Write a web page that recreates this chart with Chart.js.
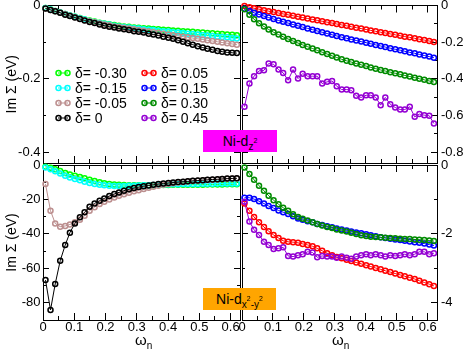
<!DOCTYPE html>
<html><head><meta charset="utf-8">
<script src="https://cdn.jsdelivr.net/npm/chart.js@4.4.0/dist/chart.umd.min.js"></script>
<style>
html,body{margin:0;padding:0;background:#fff;}
#wrap{position:relative;width:463px;height:352px;overflow:hidden;font-family:"Liberation Sans",Arial,Helvetica,sans-serif;color:#000;}
canvas{position:absolute;left:0;top:0;}
.ov{position:absolute;white-space:nowrap;}
.leg{position:absolute;height:16px;line-height:16px;font-size:14px;white-space:nowrap;}
.leg svg{position:absolute;top:4px;}
.tag{position:absolute;font-size:14px;text-align:center;}
.sb{font-size:10px;position:relative;top:4px;}
.sp{font-size:7px;position:relative;top:-7px;}
</style></head><body>
<div id="wrap">
<canvas id="cTL" width="463" height="352"></canvas>
<canvas id="cTR" width="463" height="352"></canvas>
<canvas id="cBL" width="463" height="352"></canvas>
<canvas id="cBR" width="463" height="352"></canvas>
<div id="legend"></div>
<div class="tag" style="left:203px;top:130px;width:74px;height:22px;line-height:22px;background:#ff00ff;">Ni-d<span class="sb">z<span class="sp">2</span></span></div>
<div class="tag" style="left:203px;top:288px;width:73px;height:22px;line-height:22px;background:#ffa500;">Ni-d<span class="sb">x<span class="sp">2</span>-y<span class="sp">2</span></span></div>
<div class="ov" style="left:135px;top:331px;font-size:15px;">ω<span style="font-size:10px;position:relative;top:4px;">n</span></div>
<div class="ov" style="left:332px;top:331px;font-size:15px;">ω<span style="font-size:10px;position:relative;top:4px;">n</span></div>
</div>
<script>
// Matsubara frequencies (x values)
const omega = [0.008,0.024,0.039,0.055,0.071,0.086,0.102,0.118,0.133,0.149,0.165,0.181,0.196,0.212,0.228,0.243,0.259,0.275,0.291,0.306,0.322,0.338,0.353,0.369,0.385,0.401,0.416,0.432,0.448,0.463,0.479,0.495,0.511,0.526,0.542,0.558,0.573,0.589,0.605,0.620];

// series labels
const deltaNeg = ['-0.30','-0.15','-0.05','0'];
const deltaPos = ['0.05','0.15','0.30','0.45'];
const colorsNeg = ['#00ff00','#00ffff','#bc8f8f','#000000'];
const colorsPos = ['#ff0000','#0000ff','#008b00','#9400d3'];

// Ni-dz2, delta <= 0 (eV)
const z2_m030 = [-0.007,-0.011,-0.015,-0.019,-0.023,-0.027,-0.031,-0.034,-0.038,-0.041,-0.044,-0.047,-0.049,-0.051,-0.053,-0.055,-0.057,-0.058,-0.060,-0.061,-0.062,-0.063,-0.064,-0.065,-0.066,-0.067,-0.068,-0.069,-0.070,-0.071,-0.072,-0.073,-0.074,-0.075,-0.076,-0.077,-0.078,-0.079,-0.080,-0.081];
const z2_m015 = [-0.007,-0.011,-0.015,-0.019,-0.023,-0.027,-0.031,-0.035,-0.038,-0.042,-0.045,-0.048,-0.050,-0.052,-0.055,-0.057,-0.059,-0.060,-0.062,-0.063,-0.065,-0.066,-0.067,-0.069,-0.070,-0.071,-0.073,-0.074,-0.075,-0.077,-0.078,-0.079,-0.081,-0.082,-0.083,-0.085,-0.086,-0.087,-0.089,-0.090];
const z2_m005 = [-0.008,-0.012,-0.016,-0.020,-0.024,-0.028,-0.032,-0.036,-0.040,-0.043,-0.046,-0.049,-0.052,-0.054,-0.057,-0.059,-0.061,-0.063,-0.065,-0.067,-0.069,-0.071,-0.073,-0.075,-0.077,-0.079,-0.081,-0.083,-0.085,-0.087,-0.089,-0.091,-0.093,-0.095,-0.097,-0.099,-0.101,-0.103,-0.105,-0.107];
const z2_0 = [-0.008,-0.012,-0.016,-0.020,-0.025,-0.029,-0.033,-0.037,-0.041,-0.045,-0.048,-0.052,-0.055,-0.058,-0.060,-0.063,-0.065,-0.067,-0.070,-0.072,-0.074,-0.077,-0.079,-0.082,-0.085,-0.088,-0.091,-0.095,-0.099,-0.103,-0.107,-0.111,-0.115,-0.118,-0.121,-0.124,-0.126,-0.128,-0.129,-0.130];
// Ni-dz2, delta > 0
const z2_p005 = [-0.003,-0.009,-0.015,-0.020,-0.026,-0.031,-0.036,-0.041,-0.046,-0.051,-0.056,-0.061,-0.066,-0.071,-0.076,-0.081,-0.086,-0.091,-0.096,-0.101,-0.106,-0.111,-0.116,-0.121,-0.126,-0.131,-0.136,-0.141,-0.146,-0.150,-0.155,-0.160,-0.165,-0.170,-0.174,-0.179,-0.184,-0.189,-0.194,-0.199];
const z2_p015 = [-0.018,-0.030,-0.040,-0.049,-0.058,-0.066,-0.074,-0.082,-0.089,-0.096,-0.104,-0.111,-0.118,-0.125,-0.132,-0.139,-0.146,-0.153,-0.160,-0.166,-0.173,-0.179,-0.185,-0.191,-0.197,-0.203,-0.209,-0.215,-0.221,-0.227,-0.233,-0.239,-0.244,-0.250,-0.256,-0.261,-0.267,-0.273,-0.279,-0.285];
const z2_p030 = [-0.020,-0.050,-0.075,-0.097,-0.115,-0.131,-0.146,-0.159,-0.171,-0.183,-0.194,-0.205,-0.215,-0.225,-0.235,-0.245,-0.255,-0.265,-0.275,-0.284,-0.294,-0.302,-0.309,-0.317,-0.324,-0.331,-0.338,-0.345,-0.352,-0.358,-0.364,-0.370,-0.376,-0.382,-0.388,-0.394,-0.400,-0.406,-0.412,-0.418];
const z2_p045 = [-0.553,-0.426,-0.386,-0.357,-0.354,-0.317,-0.321,-0.350,-0.368,-0.408,-0.350,-0.399,-0.372,-0.386,-0.386,-0.386,-0.426,-0.417,-0.412,-0.441,-0.459,-0.459,-0.463,-0.493,-0.502,-0.490,-0.490,-0.502,-0.544,-0.502,-0.539,-0.557,-0.568,-0.568,-0.553,-0.608,-0.593,-0.599,-0.602,-0.644];

// Ni-dx2-y2, delta <= 0
const x2_m030 = [-1.0,-1.6,-2.5,-3.5,-4.6,-5.5,-6.3,-7.0,-7.7,-8.5,-9.3,-10.0,-10.6,-11.0,-11.3,-11.5,-11.6,-11.7,-11.7,-11.7,-11.7,-11.7,-11.7,-11.6,-11.6,-11.6,-11.5,-11.5,-11.5,-11.4,-11.4,-11.4,-11.4,-11.3,-11.3,-11.3,-11.3,-11.2,-11.2,-11.2];
const x2_m015 = [-1.5,-2.5,-3.6,-5.0,-6.2,-7.2,-8.1,-8.9,-9.7,-10.4,-11.0,-11.5,-11.8,-12.0,-12.2,-12.2,-12.2,-12.1,-12.0,-11.9,-11.8,-11.7,-11.6,-11.5,-11.4,-11.3,-11.2,-11.2,-11.1,-11.1,-11.0,-11.0,-10.9,-10.9,-10.9,-10.8,-10.8,-10.8,-10.7,-10.7];
const x2_m005 = [-11.0,-26.5,-33.9,-35.8,-35.4,-34.5,-33.3,-31.8,-29.5,-26.5,-24.5,-22.6,-21.3,-20.0,-18.9,-17.9,-17.0,-16.1,-15.3,-14.6,-13.9,-13.2,-12.6,-12.0,-11.5,-11.0,-10.6,-10.2,-9.9,-9.6,-9.3,-9.1,-8.9,-8.7,-8.5,-8.4,-8.2,-8.0,-7.9,-7.8];
const x2_0 = [-66.8,-84.2,-69.1,-55.6,-46.5,-39.3,-33.9,-30.4,-27.5,-24.2,-22.3,-20.7,-19.4,-18.0,-16.8,-15.9,-14.9,-14.1,-13.4,-12.8,-12.3,-11.9,-11.5,-11.1,-10.8,-10.5,-10.2,-9.9,-9.7,-9.5,-9.2,-9.0,-8.8,-8.6,-8.4,-8.3,-8.1,-7.9,-7.8,-7.7];
// Ni-dx2-y2, delta > 0
const x2_p005 = [-1.12,-1.33,-1.51,-1.66,-1.80,-1.92,-2.03,-2.12,-2.20,-2.23,-2.24,-2.26,-2.29,-2.32,-2.36,-2.42,-2.49,-2.56,-2.62,-2.67,-2.71,-2.75,-2.79,-2.83,-2.87,-2.91,-2.95,-2.99,-3.03,-3.07,-3.11,-3.15,-3.19,-3.23,-3.27,-3.31,-3.36,-3.41,-3.46,-3.51];
const x2_p015 = [-0.95,-0.95,-0.99,-1.05,-1.12,-1.19,-1.25,-1.32,-1.37,-1.42,-1.49,-1.55,-1.59,-1.63,-1.66,-1.71,-1.74,-1.78,-1.81,-1.84,-1.87,-1.90,-1.93,-1.96,-1.98,-2.01,-2.04,-2.07,-2.10,-2.12,-2.14,-2.16,-2.18,-2.20,-2.22,-2.24,-2.26,-2.28,-2.31,-2.34];
const x2_p030 = [-0.07,-0.26,-0.43,-0.60,-0.75,-0.89,-1.02,-1.14,-1.24,-1.33,-1.43,-1.51,-1.56,-1.61,-1.66,-1.71,-1.76,-1.80,-1.83,-1.87,-1.90,-1.93,-1.97,-2.00,-2.04,-2.06,-2.08,-2.09,-2.10,-2.11,-2.12,-2.13,-2.14,-2.15,-2.15,-2.16,-2.17,-2.18,-2.19,-2.21];
const x2_p045 = [-1.07,-1.64,-1.88,-2.03,-2.23,-2.32,-2.44,-2.42,-2.39,-2.64,-2.66,-2.62,-2.59,-2.52,-2.54,-2.68,-2.64,-2.66,-2.66,-2.69,-2.66,-2.69,-2.72,-2.66,-2.62,-2.59,-2.62,-2.59,-2.62,-2.66,-2.62,-2.64,-2.62,-2.59,-2.62,-2.59,-2.52,-2.52,-2.59,-2.56];

// tick labels
const xMajorTicks = [0,0.1,0.2,0.3,0.4,0.5,0.6];
const xMajorLabels = ['0','0.1','0.2','0.3','0.4','0.5','0.6'];
const xMinorTicks = [0.05,0.15,0.25,0.35,0.45,0.55];
const yTicksTL = [0,-0.2,-0.4], yLabelsTL = ['0','-0.2','-0.4'], yMinorTL = [-0.1,-0.3];
const yTicksTR = [0,-0.2,-0.4,-0.6,-0.8], yLabelsTR = ['0','-0.2','-0.4','-0.6','-0.8'], yMinorTR = [-0.1,-0.3,-0.5,-0.7];
const yTicksBL = [0,-20,-40,-60,-80], yLabelsBL = ['0','-20','-40','-60','-80'], yMinorBL = [-10,-30,-50,-70];
const yTicksBR = [0,-2,-4], yLabelsBR = ['0','-2','-4'], yMinorBR = [-1,-3];

const FONT = '"Liberation Sans", Arial, Helvetica, sans-serif';
Chart.defaults.font.family = FONT;
Chart.defaults.color = '#000';

function axis(pos, min, max, tickVals, labels, len, o) {
  o = o || {};
  return {
    type: 'linear', position: pos, min: min, max: max, display: true, weight: o.weight || 0,
    afterBuildTicks: s => { s.ticks = tickVals.map(v => ({value: v})); },
    afterFit: s => {
      if (s.isHorizontal()) s.height = o.size || 0; else s.width = o.size || 0;
      s.paddingLeft = 0; s.paddingRight = 0; s.paddingTop = 0; s.paddingBottom = 0;
    },
    ticks: {display: !!labels, autoSkip: false, maxRotation: 0, minRotation: 0, padding: o.pad || 0,
      color: '#000', font: {family: FONT, size: 13}, callback: (v, i) => labels ? labels[i] : ''},
    grid: {display: true, drawOnChartArea: false, drawTicks: true, tickLength: -len, tickColor: '#000', tickWidth: 1, color: '#000'},
    border: {display: !!o.border, color: '#000', width: 1},
    title: o.title ? {display: true, text: o.title, color: '#000', font: {family: FONT, size: 14}, padding: {top: 4, bottom: 0}} : {display: false}
  };
}

function panelScales(xLabels, yMin, yTicks, yLabels, yMinor, side, yTitle) {
  const other = side === 'left' ? 'right' : 'left';
  return {
    x: axis('bottom', 0, 0.63, xMajorTicks, xLabels ? xMajorLabels : null, 7, {border: true, weight: 10, pad: 6.5, size: xLabels ? 32 : 0}),
    xm: axis('bottom', 0, 0.63, xMinorTicks, null, 4, {}),
    xt: axis('top', 0, 0.63, xMajorTicks, null, 7, {border: true, weight: 10}),
    xtm: axis('top', 0, 0.63, xMinorTicks, null, 4, {}),
    y: axis(side, yMin, 0, yTicks, yLabels, 6, {border: true, weight: 10, size: side === 'left' ? 43 : 26, pad: side === 'left' ? 8.5 : 10, title: yTitle}),
    ym: axis(side, yMin, 0, yMinor, null, 3, {}),
    yo: axis(other, yMin, 0, yTicks, null, 6, {border: true, weight: 10}),
    yom: axis(other, yMin, 0, yMinor, null, 3, {})
  };
}

function series(vals) { return omega.map((w, i) => ({x: w, y: vals[i]})); }
function ds(label, color, vals, order) {
  return {label: 'δ= ' + label, data: series(vals), borderColor: color, backgroundColor: color,
    borderWidth: 1, pointRadius: 2.5, pointBorderWidth: 1.5, pointBackgroundColor: 'rgba(255,255,255,0)',
    pointBorderColor: color, tension: 0, order: order, clip: 4, xAxisID: 'x', yAxisID: 'y'};
}

function makeChart(id, datasets, padding, scales) {
  return new Chart(document.getElementById(id), {
    type: 'line',
    data: {datasets: datasets},
    options: {responsive: false, animation: false, devicePixelRatio: 1, events: [],
      layout: {padding: padding}, scales: scales,
      plugins: {legend: {display: false}, tooltip: {enabled: false}}}
  });
}

const negZ2 = [z2_m030, z2_m015, z2_m005, z2_0];
const posZ2 = [z2_p005, z2_p015, z2_p030, z2_p045];
const negX2 = [x2_m030, x2_m015, x2_m005, x2_0];
const posX2 = [x2_p005, x2_p015, x2_p030, x2_p045];

makeChart('cTL', negZ2.map((v, i) => ds(deltaNeg[i], colorsNeg[i], v, 4 - i)),
  {left: 0, right: 223, top: 5, bottom: 189},
  panelScales(false, -0.43, yTicksTL, yLabelsTL, yMinorTL, 'left', 'Im Σ (eV)'));
makeChart('cTR', posZ2.map((v, i) => ds(deltaPos[i], colorsPos[i], v, 4 - i)),
  {left: 242, right: 0, top: 5, bottom: 189},
  panelScales(false, -0.86, yTicksTR, yLabelsTR, yMinorTR, 'right', null));
makeChart('cBL', negX2.map((v, i) => ds(deltaNeg[i], colorsNeg[i], v, 4 - i)),
  {left: 0, right: 223, top: 165, bottom: 0},
  panelScales(true, -90, yTicksBL, yLabelsBL, yMinorBL, 'left', 'Im Σ (eV)'));
makeChart('cBR', posX2.map((v, i) => ds(deltaPos[i], colorsPos[i], v, 4 - i)),
  {left: 242, right: 0, top: 165, bottom: 0},
  panelScales(true, -4.5, yTicksBR, yLabelsBR, yMinorBR, 'right', null));

// legend (two columns, built from the series labels and colours)
const legendRows = [73, 88, 102.7, 117.5];
const legendEl = document.getElementById('legend');
function legendItem(label, color, symX, textX, cy) {
  const d = document.createElement('div');
  d.className = 'leg';
  d.style.left = symX + 'px';
  d.style.top = (cy - 8) + 'px';
  d.innerHTML = '<svg width="17" height="8" style="left:0"><line x1="3" y1="4" x2="13" y2="4" stroke="' + color + '" stroke-width="1"/>' +
    '<circle cx="3.5" cy="4" r="2.5" fill="none" stroke="' + color + '" stroke-width="1.5"/>' +
    '<circle cx="12.5" cy="4" r="2.5" fill="none" stroke="' + color + '" stroke-width="1.5"/></svg>' +
    '<span style="position:absolute;left:' + (textX - symX) + 'px;">δ= ' + label + '</span>';
  legendEl.appendChild(d);
}
deltaNeg.forEach((l, i) => legendItem(l, colorsNeg[i], 55, 75, legendRows[i]));
deltaPos.forEach((l, i) => legendItem(l, colorsPos[i], 141, 161, legendRows[i]));
</script>
</body></html>
